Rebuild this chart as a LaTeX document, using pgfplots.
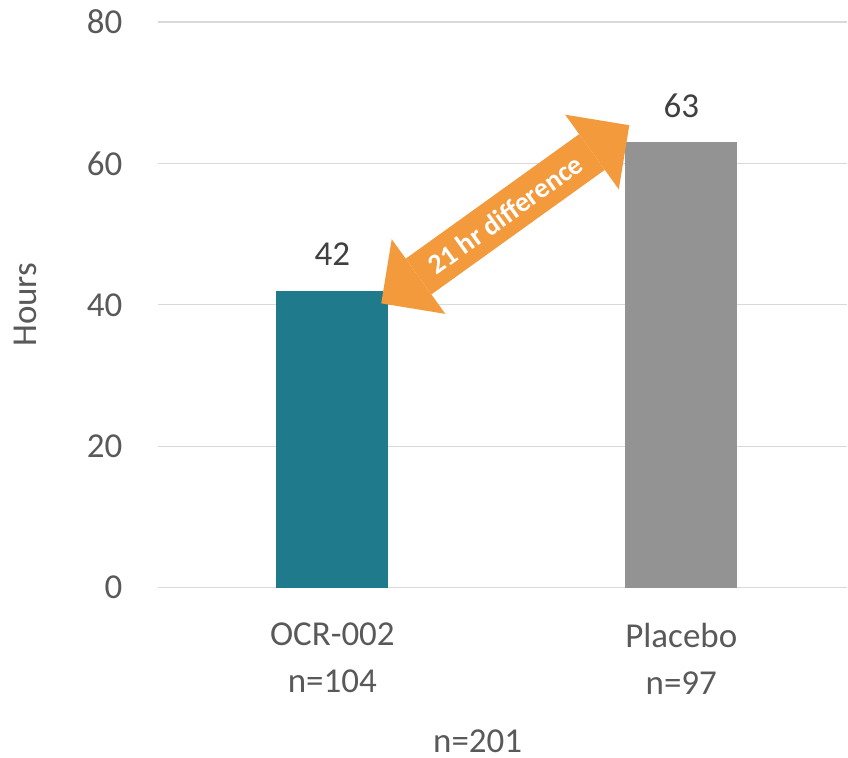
\documentclass[border=0pt]{standalone}
\usepackage{fontspec}
\setmainfont{Carlito}
\usepackage{pgfplots}
\pgfplotsset{compat=1.18}
\usetikzlibrary{arrows.meta}

\definecolor{barteal}{HTML}{1F7A8C}
\definecolor{bargray}{HTML}{939393}
\definecolor{arroworange}{HTML}{F39A3C}
\definecolor{gridgray}{HTML}{D9D9D9}
\definecolor{labelgray}{HTML}{595959}
\definecolor{valuegray}{HTML}{404040}

\begin{document}
\begin{tikzpicture}
\begin{axis}[
  name=ax,
  scale only axis,
  width=690pt, height=566pt,
  xmin=-0.5, xmax=1.476,
  ymin=0, ymax=80,
  ytick={0,20,40,60,80},
  xtick={0,1},
  xticklabels={{OCR-002\\n=104},{Placebo\\n=97}},
  axis line style={draw=none},
  tick style={draw=none},
  ymajorgrids,
  major grid style={gridgray, line width=1.2pt},
  /pgf/number format/assume math mode=true,
  ticklabel style={font=\fontsize{35}{47}\selectfont, text=labelgray},
  xticklabel style={align=center, yshift=-32pt},
  yticklabel style={xshift=-32pt},
  clip=false,
]
\addplot[ybar, bar width=112pt, fill=barteal, draw=none,
  nodes near coords, point meta=y,
  every node near coord/.style={font=\fontsize{35}{42}\selectfont, text=valuegray, anchor=base, yshift=25pt}]
  coordinates {(0,42)};
\addplot[ybar, bar width=112pt, fill=bargray, draw=none,
  nodes near coords, point meta=y,
  every node near coord/.style={font=\fontsize{35}{42}\selectfont, text=valuegray, anchor=base, yshift=25pt}]
  coordinates {(1,63)};

% double-headed difference arrow between the bar tops
\draw[arroworange, line width=44pt,
  {Triangle[length=46pt, width=92pt, line width=0pt]}-{Triangle[length=46pt, width=92pt, line width=0pt]}]
  (axis cs:0.14,40.2) -- (axis cs:0.851,65.4);
\path (axis cs:0.14,40.2) -- (axis cs:0.851,65.4)
  node[midway, sloped, text=white, inner sep=0pt, font=\fontsize{28}{32}\selectfont\bfseries] {21 hr difference};
\end{axis}

\node[rotate=90, text=labelgray, font=\fontsize{35}{42}\selectfont] at ([xshift=-133pt]ax.west) {Hours};
\node[text=labelgray, inner sep=0pt, font=\fontsize{35}{42}\selectfont] at ([xshift=320pt, yshift=-154pt]ax.south west) {n=201};

\path[use as bounding box] ([xshift=-158pt, yshift=-170pt]ax.south west) rectangle ([yshift=22pt]ax.north east);
\end{tikzpicture}
\end{document}
